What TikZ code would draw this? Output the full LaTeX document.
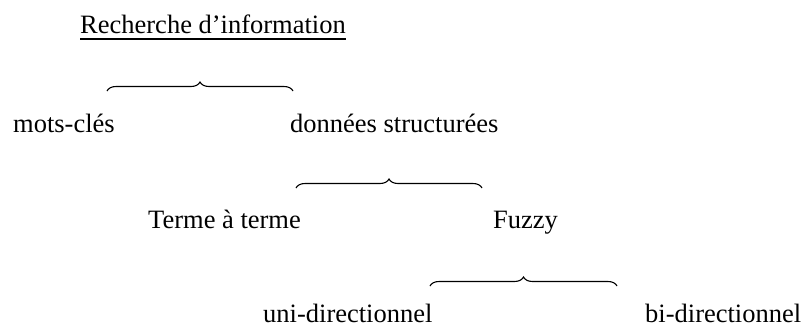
\documentclass[tikz,border=0pt]{standalone}
\usepackage{fontspec}
\setmainfont{Liberation Serif}
\usetikzlibrary{decorations.pathreplacing}
\begin{document}
\begin{tikzpicture}[x=1pt,y=-1pt,
  lbl/.style={anchor=base west,inner sep=0pt,text depth=0pt,font=\fontsize{26.5}{30}\selectfont},
  brc/.style={decorate,decoration={brace,amplitude=9pt,aspect=0.5},line width=1.1pt}]
\useasboundingbox (0,0) rectangle (803,327);
\node[lbl] (title) at (80,33) {Recherche d’information};
\draw[line width=1.8pt] ([yshift=-6pt]title.base west) -- ([yshift=-6pt]title.base east);
\node[lbl] (mots) at (13,132) {mots-clés};
\node[lbl] (donnees) at (290,132) {données structurées};
\node[lbl] (terme) at (148,228) {Terme à terme};
\node[lbl] (fuzzy) at (493,228) {Fuzzy};
\node[lbl] (uni) at (263,322) {uni-directionnel};
\node[lbl] (bi) at (645,322) {bi-directionnel};
\coordinate (b1l) at (107,91); \coordinate (b1r) at (293,91);
\coordinate (b2l) at (296,188); \coordinate (b2r) at (482,188);
\coordinate (b3l) at (430,286); \coordinate (b3r) at (617,286);
\draw[brc] (b1l) -- (b1r);
\draw[brc] (b2l) -- (b2r);
\draw[brc] (b3l) -- (b3r);
\end{tikzpicture}
\end{document}
